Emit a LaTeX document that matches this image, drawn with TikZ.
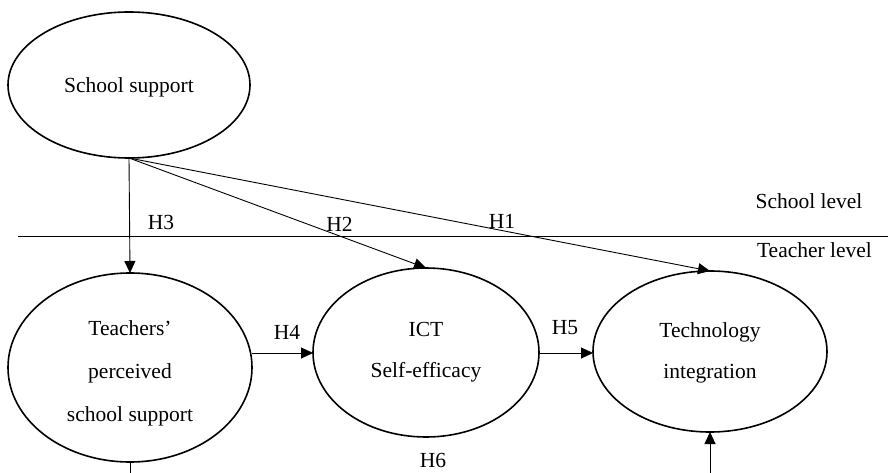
\documentclass[tikz,border=0pt]{standalone}
\usepackage{fontspec}
\setmainfont{Liberation Serif}
\usetikzlibrary{shapes.geometric,arrows.meta}
\begin{document}
\begin{tikzpicture}[x=1pt,y=-1pt,
  ell/.style={ellipse,draw,line width=1.6pt,inner sep=0pt,outer sep=0pt},
  txt/.style={font=\fontsize{21.5}{42}\selectfont,align=center,inner sep=0pt},
  conn/.style={line width=0.9pt},
  arr/.style={conn,-{Triangle[length=12pt,width=11pt]}}]
\useasboundingbox (0,0) rectangle (888,473);
% ellipses
\node[ell,minimum width=242pt,minimum height=146pt] (ss) at (129,85) {};
\node[ell,minimum width=244pt,minimum height=189pt] (tp) at (130,367.5) {};
\node[ell,minimum width=226pt,minimum height=169pt] (ict) at (426,352.5) {};
\node[ell,minimum width=234pt,minimum height=161pt] (ti) at (710,351.5) {};
% texts
\node[txt] (sst) at (129,87) {School support};
\node[txt,font=\fontsize{21.5}{43}\selectfont] (tpt) at (130,373) {Teachers'\\perceived\\school support};
\node[txt,font=\fontsize{21.5}{41}\selectfont] (ictt) at (426,352) {ICT\\Self-efficacy};
\node[txt,font=\fontsize{21.5}{41}\selectfont] (tit) at (710,353) {Technology\\integration};
% level line
\coordinate (ll) at (18,236.5);
\coordinate (lr) at (888,236.5);
\draw[conn] (ll) -- (lr);
\node[txt] (sl) at (809,201) {School level};
\node[txt] (tl) at (814.5,250) {Teacher level};
% connectors
\draw[arr] (ss.south) -- (tp.north);
\draw[arr] (ss.south) -- (ict.north);
\draw[arr] (ss.south) -- (ti.north);
\coordinate (h4s) at (252,353);
\coordinate (h4e) at (313,353);
\draw[arr] (h4s) -- (h4e);
\coordinate (h5s) at (539,353);
\coordinate (h5e) at (593,353);
\draw[arr] (h5s) -- (h5e);
\coordinate (bl) at (130,473);
\draw[conn] (tp.south) -- (bl);
\coordinate (br) at (710,473);
\draw[arr] (br) -- (ti.south);
% labels
\node[txt] (h1) at (502,221) {H1};
\node[txt] (h2) at (339.5,224) {H2};
\node[txt] (h3) at (161,222) {H3};
\node[txt] (h4) at (287,332) {H4};
\node[txt] (h5) at (565,328) {H5};
\node[txt] (h6) at (433,460) {H6};
\end{tikzpicture}
\end{document}
